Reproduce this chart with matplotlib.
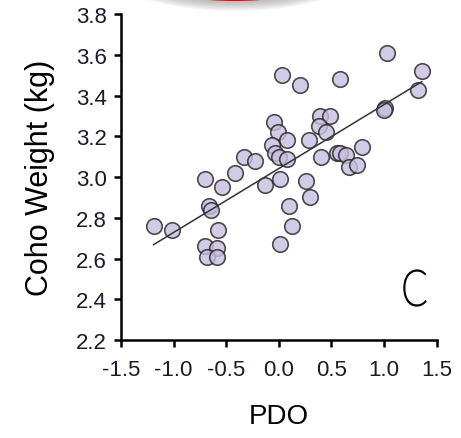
import numpy as np
import matplotlib.pyplot as plt
from matplotlib.patches import Ellipse, PathPatch
from matplotlib.textpath import TextPath
from matplotlib.font_manager import FontProperties
from matplotlib.transforms import Affine2D

# Datos (PDO vs peso del salmon coho)
pdo = [-1.19, -1.02, -0.70, -0.54, -0.42, -0.33, -0.23, -0.66, -0.64, -0.58,
       -0.70, -0.59, -0.68, -0.59, -0.13, 0.01, 0.01, 0.10, 0.13, 1.03,
       1.36, 1.32, 1.01, 1.00, 0.03, 0.20, 0.58, -0.05, -0.01, 0.08,
       -0.06, -0.04, 0.00, 0.08, 0.29, 0.39, 0.49, 0.38, 0.45, 0.40,
       0.55, 0.58, 0.64, 0.67, 0.74, 0.79, 0.26, 0.30]
peso = [2.76, 2.74, 2.99, 2.95, 3.02, 3.10, 3.08, 2.86, 2.84, 2.74,
        2.66, 2.65, 2.61, 2.61, 2.96, 2.99, 2.67, 2.86, 2.76, 3.61,
        3.52, 3.43, 3.34, 3.33, 3.50, 3.45, 3.48, 3.27, 3.22, 3.18,
        3.16, 3.12, 3.10, 3.09, 3.18, 3.30, 3.30, 3.25, 3.22, 3.10,
        3.12, 3.12, 3.11, 3.05, 3.06, 3.15, 2.98, 2.90]

xticks = np.arange(-1.5, 1.6, 0.5)
yticks = np.arange(2.2, 3.81, 0.2)

w, h = 4.61, 4.39
fig = plt.figure(figsize=(w, h), dpi=100)

# adorno rojo recortado arriba (en pixeles de la figura)
bg = fig.add_axes([0, 0, 1, 1], zorder=0)
bg.set_xlim(0, 461)
bg.set_ylim(439, 0)
bg.axis('off')
for k in range(8):
    bg.add_patch(Ellipse((235, -38), 277 - 5 * k, 100 - 2.5 * k,
                         color='gray', alpha=0.08, lw=0))
bg.add_patch(Ellipse((235, -38), 240, 80, color='red', lw=0))

# letra "C" estrecha (tipo Calibri)
tp = TextPath((0, 0), 'C', size=50,
              prop=FontProperties(family='Lato', weight=300))
ext = tp.get_extents()
tr = (Affine2D().translate(-(ext.x0 + ext.x1) / 2, -(ext.y0 + ext.y1) / 2)
      .scale(0.8, -1.03).translate(415, 289))
bg.add_patch(PathPatch(tr.transform_path(tp), color='black', lw=0))

ax = fig.add_axes([0.2625, 0.2232, 0.6845, 0.7422], zorder=1)
ax.patch.set_alpha(0)
ax.scatter(pdo, peso, s=125, facecolor=(0.78, 0.75, 0.88), alpha=0.8,
           edgecolor='#222222', linewidth=1.2, zorder=3)

# recta de regresion
m, b = np.polyfit(pdo, peso, 1)
xl = np.array([min(pdo), max(pdo)])
ax.plot(xl, m * xl + b, '-', color='#333333', lw=1.1, zorder=4)

ax.set_xlim(-1.5, 1.5)
ax.set_ylim(2.2, 3.8)
ax.set_xticks(xticks)
ax.set_yticks(yticks)
ax.set_xticklabels(['%.1f' % v for v in xticks])
ax.set_yticklabels(['%.1f' % v for v in yticks])
for s in ['top', 'right']:
    ax.spines[s].set_visible(False)
for s in ['left', 'bottom']:
    ax.spines[s].set_linewidth(1.8)
ax.tick_params(width=1.8, length=5, labelsize=16)
ax.tick_params(axis='x', pad=9)
ax.tick_params(axis='y', pad=5)
for lb in ax.get_xticklabels() + ax.get_yticklabels():
    lb.set_family('Liberation Sans')
    lb.set_color('#1a1a2e')

ax.set_xlabel('PDO', fontsize=20, family='Liberation Sans', labelpad=16)
ax.set_ylabel('Coho Weight (kg)', fontsize=22, family='Liberation Sans', labelpad=15)

fig.savefig('out.png', dpi=100)
